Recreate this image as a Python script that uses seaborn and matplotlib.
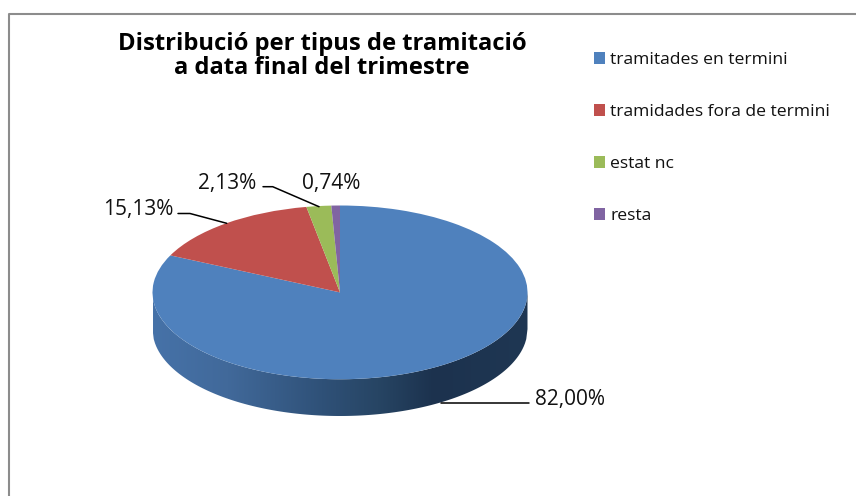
import numpy as np
import matplotlib
matplotlib.use('Agg')
import matplotlib.pyplot as plt
from matplotlib.colors import LinearSegmentedColormap
from matplotlib.patches import Polygon
import seaborn as sns

categories = ['tramitades en termini', 'tramidades fora de termini', 'estat nc', 'resta']
shares = [82.00, 15.13, 2.13, 0.74]
title_lines = ['Distribució per tipus de tramitació', 'a data final del trimestre']

W, H = 856, 496
DEPTH = 0.423  # height of the pie wall, in radii

sns.set_theme(style='white')
plt.rcParams['font.family'] = ['Open Sans', 'DejaVu Sans']
colors = sns.color_palette(['#4F81BD', '#C0504D', '#9BBB59', '#8064A2'])


def pct(v):
    return '{:.2f}%'.format(v).replace('.', ',')


fig = plt.figure(figsize=(W / 100, H / 100), dpi=100, facecolor='white')

# overlay in pixel coords for the frame, text and leader lines
bg = fig.add_axes([0, 0, 1, 1])
bg.set_xlim(0, W)
bg.set_ylim(H, 0)
bg.axis('off')
bg.plot([9, 9, W], [H, 13.5, 13.5], color='#8c8c8c', lw=1.5)

# pie axes, squeezed so the circle turns into an ellipse
left, right, top, bottom = 152.5, 527.5, 205.5, 416
ax = fig.add_axes([left / W, 1 - bottom / H, (right - left) / W, (bottom - top) / H])
ax.patch.set_alpha(0)
wedges, _ = ax.pie(shares, colors=colors, startangle=90, counterclock=False, radius=1,
                   wedgeprops={'edgecolor': 'none', 'linewidth': 0})
for w in wedges:
    w.set_zorder(3)

# front wall of the pie with the dark gradient
xs = np.linspace(-1, 1, 300)
front = -np.sqrt(1 - xs ** 2)
wall = Polygon(np.r_[np.c_[xs, front], np.c_[xs[::-1], front[::-1] - DEPTH]],
               closed=True, transform=ax.transData, fc='none', ec='none')
ax.add_patch(wall)
wall_cmap = LinearSegmentedColormap.from_list('wall', [(0, '#4672A8'), (0.2, '#41699A'), (0.45, '#2F5178'),
                                                       (0.6, '#274564'), (0.75, '#1C324E'), (1, '#1F3753')])
img = ax.imshow(np.linspace(0, 1, 256)[None, :], cmap=wall_cmap, extent=[-1, 1, -1 - DEPTH, 0],
                aspect='auto', zorder=2)
img.set_clip_path(wall)
ax.set_aspect('auto')
ax.set_xlim(-1, 1)
ax.set_ylim(-1 - DEPTH, 1)

bg.text(322, 56, '\n'.join(title_lines), ha='center', va='center', fontsize=17.1, fontweight='bold',
        color='black', linespacing=0.97)

# data labels with leader lines
label_pos = [(570, 400), (138, 209), (227, 183), (331, 183)]
for v, (x, y) in zip(shares, label_pos):
    bg.text(x, y, pct(v), ha='center', va='center', fontsize=15, color='#111111')
leaders = [([440.7, 529.3], [403.3, 403.3]),
           ([178, 190, 226.7], [213.5, 213.5, 223.3]),
           ([263, 272.7, 319], [186.7, 186.7, 206.7])]
for lx, ly in leaders:
    bg.plot(lx, ly, color='black', lw=1.1, zorder=5)
bg.set_zorder(ax.get_zorder() + 1)
bg.patch.set_alpha(0)

leg = fig.legend(wedges, categories, loc='upper left', bbox_to_anchor=(594 / W, 1 - 52 / H), frameon=False,
                 fontsize=12.6, labelspacing=2.06, handlelength=0.64, handleheight=0.64, handletextpad=0.29,
                 borderpad=0, borderaxespad=0, labelcolor='#111111')

fig.savefig('out.png', dpi=100)
